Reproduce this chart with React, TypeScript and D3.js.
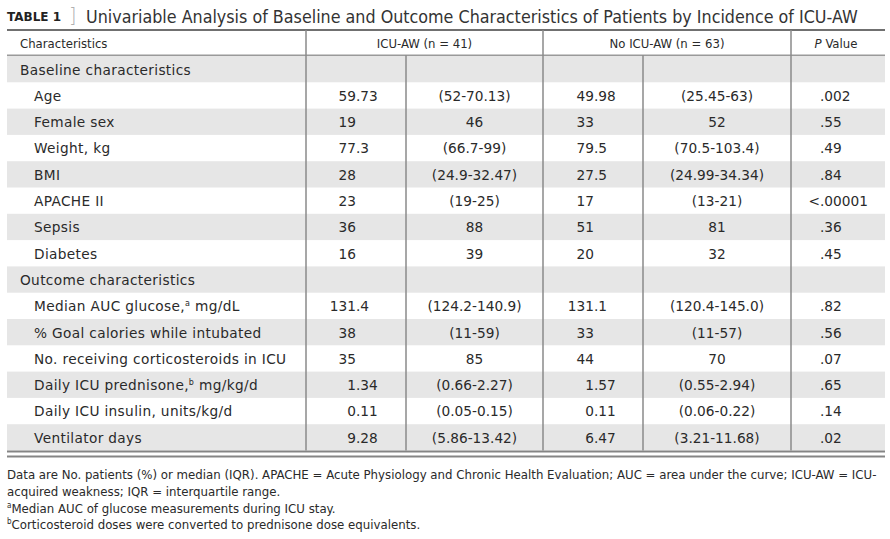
import React, { useLayoutEffect, useRef, useState } from "react";
import * as d3 from "d3";

// ---------- data ----------
const titleLabel = "TABLE 1";
const titleText =
  "Univariable Analysis of Baseline and Outcome Characteristics of Patients by Incidence of ICU-AW";
const headerLabels = ["Characteristics", "ICU-AW (n = 41)", "No ICU-AW (n = 63)", "Value"];

const rowLabels = [
  "Baseline characteristics",
  "Age",
  "Female sex",
  "Weight, kg",
  "BMI",
  "APACHE II",
  "Sepsis",
  "Diabetes",
  "Outcome characteristics",
  "Median AUC glucose,^a mg/dL",
  "% Goal calories while intubated",
  "No. receiving corticosteroids in ICU",
  "Daily ICU prednisone,^b mg/kg/d",
  "Daily ICU insulin, units/kg/d",
  "Ventilator days",
];
const sectionRows = [0, 8];
const icuValues = ["", "59.73", "19", "77.3", "28", "23", "36", "16", "", "131.4", "38", "35", "1.34", "0.11", "9.28"];
const icuRanges = ["", "(52-70.13)", "46", "(66.7-99)", "(24.9-32.47)", "(19-25)", "88", "39", "", "(124.2-140.9)", "(11-59)", "85", "(0.66-2.27)", "(0.05-0.15)", "(5.86-13.42)"];
const noValues = ["", "49.98", "33", "79.5", "27.5", "17", "51", "20", "", "131.1", "33", "44", "1.57", "0.11", "6.47"];
const noRanges = ["", "(25.45-63)", "52", "(70.5-103.4)", "(24.99-34.34)", "(13-21)", "81", "32", "", "(120.4-145.0)", "(11-57)", "70", "(0.55-2.94)", "(0.06-0.22)", "(3.21-11.68)"];
const pValues = ["", ".002", ".55", ".49", ".84", "<.00001", ".36", ".45", "", ".82", ".56", ".07", ".65", ".14", ".02"];

const footnotes = [
  "Data are No. patients (%) or median (IQR). APACHE = Acute Physiology and Chronic Health Evaluation; AUC = area under the curve; ICU-AW = ICU-",
  "acquired weakness; IQR = interquartile range.",
  "^aMedian AUC of glucose measurements during ICU stay.",
  "^bCorticosteroid doses were converted to prednisone dose equivalents.",
];

// ---------- layout ----------
const W = 890;
const H = 539;
const colEdges = [7, 306, 406, 543, 643, 791, 885];
const TOP = 30;
const HEAD_BOTTOM = 56;
const BODY_BOTTOM = 450.5;
const TEXT = "#2a2a2a";
const FONT = "'DejaVu Sans', Verdana, sans-serif";
const NARROW = "'Liberation Sans Narrow', 'DejaVu Sans Condensed', 'DejaVu Sans', sans-serif";
const TITLE_X = 86;
const TITLE_W = 771;

function parseSup(s: string) {
  const parts: { t: string; sup: boolean }[] = [];
  const re = /\^([a-z])/g;
  let last = 0;
  let m: RegExpExecArray | null;
  while ((m = re.exec(s))) {
    if (m.index > last) parts.push({ t: s.slice(last, m.index), sup: false });
    parts.push({ t: m[1], sup: true });
    last = m.index + 2;
  }
  if (last < s.length) parts.push({ t: s.slice(last), sup: false });
  return parts;
}

function Sup({ s, supSize }: { s: string; supSize: number }) {
  const parts = parseSup(s);
  return (
    <>
      {parts.map((p, i) =>
        p.sup ? (
          <tspan key={i} fontSize={supSize} dy={-5}>
            {p.t}
          </tspan>
        ) : (
          <tspan key={i} dy={i > 0 && parts[i - 1].sup ? 5 : 0}>
            {p.t}
          </tspan>
        )
      )}
    </>
  );
}

function DecimalText({ x, y, s, size }: { x: number; y: number; s: string; size: number }) {
  if (!s) return null;
  const k = s.indexOf(".");
  const ip = k < 0 ? s : s.slice(0, k);
  const fp = k < 0 ? "" : s.slice(k);
  return (
    <g fontSize={size} fill={TEXT}>
      {ip && (
        <text x={x} y={y} textAnchor="end">
          {ip}
        </text>
      )}
      {fp && (
        <text x={x} y={y}>
          {fp}
        </text>
      )}
    </g>
  );
}

export default function App() {
  const titleRef = useRef<SVGTextElement>(null);
  const [titleScale, setTitleScale] = useState(0.83);

  useLayoutEffect(() => {
    if (titleRef.current) {
      const len = titleRef.current.getComputedTextLength();
      if (len > 0) setTitleScale(TITLE_W / len);
    }
  }, []);

  const y = d3
    .scaleBand<number>()
    .domain(d3.range(rowLabels.length))
    .range([HEAD_BOTTOM, BODY_BOTTOM])
    .paddingInner(0)
    .paddingOuter(0);
  const col = d3
    .scaleOrdinal<string, number>()
    .domain(["label", "icuV", "icuR", "noV", "noR", "p", "end"])
    .range(colEdges);
  const colMid = (i: number) => (colEdges[i] + colEdges[i + 1]) / 2;

  const decIcu = 356;
  const decNo = 594;
  const decP = 820;

  const bodySize = 13.7;
  const rowTextDy = 18.5;

  return (
    <svg
      width={W}
      height={H}
      viewBox={`0 0 ${W} ${H}`}
      style={{ display: "block", position: "absolute", left: 0, top: 0 }}
      fontFamily={FONT}
    >
      <rect x={0} y={0} width={W} height={H} fill="#ffffff" />
      {/* title */}
      <text x={7} y={21} fontSize={12} fontWeight="bold" fill="#222">
        {titleLabel}
      </text>
      <text x={69} y={22} fontSize={19} fill="#b0b0b0" fontWeight={200}>
        ]
      </text>
      <g transform={`translate(${TITLE_X},23) scale(${titleScale},1)`}>
        <text ref={titleRef} x={0} y={0} fontSize={17.4} fill="#333">
          {titleText}
        </text>
      </g>

      {/* row bands */}
      {rowLabels.map((_, i) =>
        i % 2 === 0 ? (
          <rect
            key={i}
            x={colEdges[0]}
            y={y(i)!}
            width={colEdges[6] - colEdges[0]}
            height={y.bandwidth()}
            fill="#e6e6e6"
          />
        ) : null
      )}

      {/* header */}
      <g fontFamily={NARROW} fontSize={13} fill={TEXT}>
        <text x={20} y={48}>
          {headerLabels[0]}
        </text>
        <text x={(colEdges[1] + colEdges[3]) / 2} y={48} textAnchor="middle">
          {headerLabels[1]}
        </text>
        <text x={(colEdges[3] + colEdges[5]) / 2} y={48} textAnchor="middle">
          {headerLabels[2]}
        </text>
        <text x={colMid(5) - 2} y={48} textAnchor="middle">
          <tspan fontStyle="italic">P</tspan> {headerLabels[3]}
        </text>
      </g>

      {/* lines */}
      <line x1={colEdges[0]} x2={colEdges[6]} y1={TOP} y2={TOP} stroke="#707070" strokeWidth={2} />
      <line
        x1={colEdges[0]}
        x2={colEdges[6]}
        y1={HEAD_BOTTOM - 0.8}
        y2={HEAD_BOTTOM - 0.8}
        stroke="#9a9a9a"
        strokeWidth={1.5}
      />
      {[col("icuV"), col("noV"), col("p")].map((x, i) => (
        <line key={"v" + i} x1={x} x2={x} y1={TOP} y2={BODY_BOTTOM} stroke="#8a8a8a" strokeWidth={1.5} />
      ))}
      {[col("icuR"), col("noR")].map((x, i) => (
        <line key={"vi" + i} x1={x} x2={x} y1={HEAD_BOTTOM - 0.8} y2={BODY_BOTTOM} stroke="#8a8a8a" strokeWidth={1.5} />
      ))}
      <line x1={colEdges[0]} x2={colEdges[6]} y1={451.6} y2={451.6} stroke="#858585" strokeWidth={2} />
      <line x1={colEdges[0]} x2={colEdges[6]} y1={456.6} y2={456.6} stroke="#858585" strokeWidth={2} />

      {/* body */}
      <g fontSize={bodySize} fill={TEXT}>
        {rowLabels.map((lab, i) => {
          const ty = y(i)! + rowTextDy;
          const isSection = sectionRows.includes(i);
          return (
            <g key={i}>
              <text x={isSection ? 20 : 34} y={ty} letterSpacing={0.35}>
                <Sup s={lab} supSize={8} />
              </text>
              <DecimalText x={decIcu} y={ty} s={icuValues[i]} size={bodySize} />
              {icuRanges[i] && (
                <text x={colMid(2)} y={ty} textAnchor="middle">
                  {icuRanges[i]}
                </text>
              )}
              <DecimalText x={decNo} y={ty} s={noValues[i]} size={bodySize} />
              {noRanges[i] && (
                <text x={colMid(4)} y={ty} textAnchor="middle">
                  {noRanges[i]}
                </text>
              )}
              <DecimalText x={decP} y={ty} s={pValues[i]} size={bodySize} />
            </g>
          );
        })}
      </g>

      {/* footnotes */}
      <g fontFamily={NARROW} fontSize={13.1} fill={TEXT}>
        {footnotes.map((f, i) => (
          <text key={i} x={7} y={479 + i * 16.8}>
            <Sup s={f} supSize={8} />
          </text>
        ))}
      </g>
    </svg>
  );
}
